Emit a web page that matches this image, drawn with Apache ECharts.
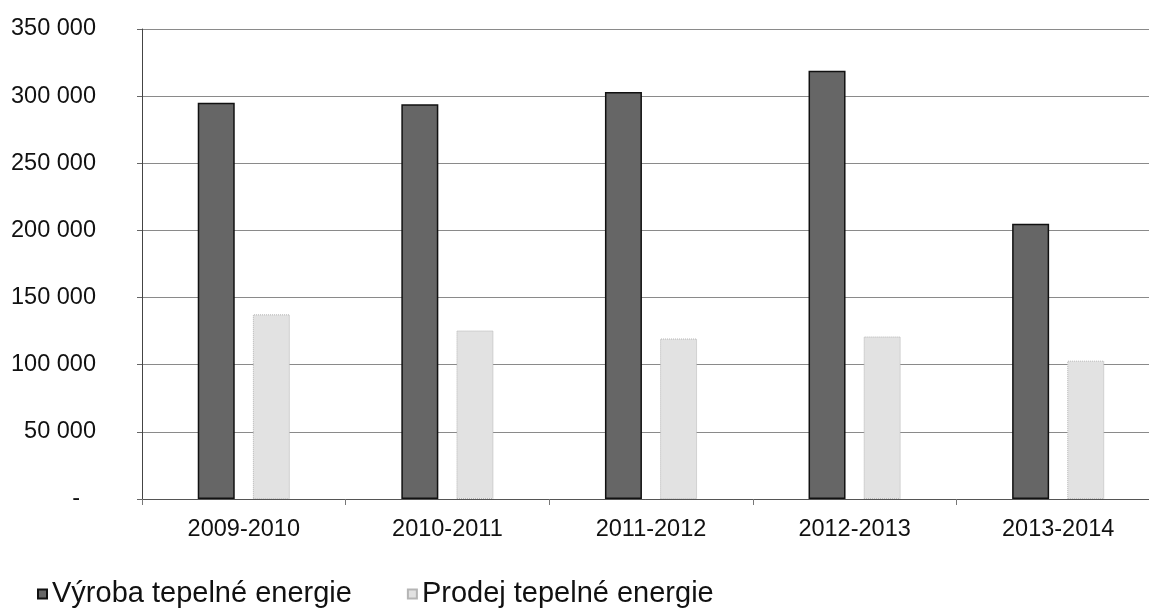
<!DOCTYPE html>
<html>
<head>
<meta charset="utf-8">
<script src="https://cdn.jsdelivr.net/npm/echarts@6/dist/echarts.min.js"></script>
<style>
html,body{margin:0;padding:0;background:#fff;}
#chart{width:1149px;height:612px;}
</style>
</head>
<body>
<div id="chart"></div>
<script>
const categories = ['2009-2010', '2010-2011', '2011-2012', '2012-2013', '2013-2014'];
const seriesNames = ['Výroba tepelné energie', 'Prodej tepelné energie'];
const vyroba = [295000, 294000, 303000, 319000, 205000];
const prodej = [137500, 125500, 119500, 121000, 103000];
const yMin = 0, yMax = 350000, yStep = 50000;

const FONT = '"Liberation Sans", Arial, sans-serif';

function fmt(v) {
  if (v === 0) return '{d|-}';
  return String(v).replace(/\B(?=(\d{3})+(?!\d))/g, ' ');
}

const chart = echarts.init(document.getElementById('chart'), null, {renderer: 'canvas'});
chart.setOption({
  animation: false,
  backgroundColor: '#ffffff',
  textStyle: {fontFamily: FONT},
  grid: {left: 142, right: -11, top: 29, bottom: 113, containLabel: false, outerBoundsMode: 'none'},
  legend: {
    left: 37, top: 579, padding: 0,
    itemWidth: 9, itemHeight: 9, itemGap: 55,
    icon: 'rect',
    textStyle: {fontFamily: FONT, fontSize: 29, color: '#111', lineHeight: 30},
    data: seriesNames
  },
  xAxis: {
    type: 'category',
    data: categories,
    axisLine: {lineStyle: {color: '#555', width: 1}},
    axisTick: {show: true, length: 6, alignWithLabel: false, lineStyle: {color: '#777'}},
    axisLabel: {fontFamily: FONT, fontSize: 23.5, color: '#111', margin: 19}
  },
  yAxis: {
    type: 'value',
    min: yMin, max: yMax, interval: yStep,
    axisLine: {show: true, lineStyle: {color: '#444', width: 1}},
    axisTick: {show: true, length: 5, lineStyle: {color: '#666'}},
    splitLine: {show: true, lineStyle: {color: '#8a8a8a', width: 1}},
    axisLabel: {
      fontFamily: FONT, fontSize: 23.5, color: '#111', margin: 46,
      formatter: fmt,
      rich: {d: {fontFamily: FONT, fontSize: 23.5, color: '#111', padding: [0, 16, 0, 0]}}
    }
  },
  series: [
    {
      name: seriesNames[0], type: 'bar', data: vyroba,
      barWidth: 37, barGap: '49%',
      itemStyle: {color: '#666666', borderColor: '#111', borderWidth: 1.5}
    },
    {
      name: seriesNames[1], type: 'bar', data: prodej,
      barWidth: 37,
      itemStyle: {color: '#e2e2e2', borderColor: '#b5b5b5', borderWidth: 1, borderType: 'dotted'}
    }
  ]
});
</script>
</body>
</html>
